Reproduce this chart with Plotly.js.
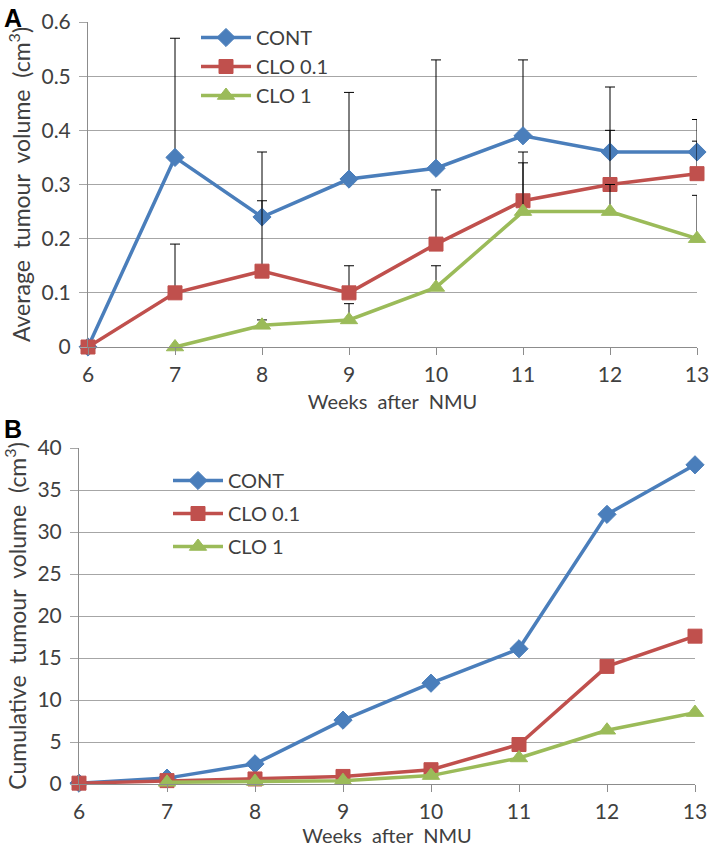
<!DOCTYPE html>
<html>
<head>
<meta charset="utf-8">
<script src="https://cdn.plot.ly/plotly-3.0.1.min.js"></script>
<style>html,body{margin:0;padding:0;background:#fff;}#chart{width:709px;height:847px;}</style>
</head>
<body>
<div id="chart"></div>
<script>
// ---- data ----
const weeks = [6, 7, 8, 9, 10, 11, 12, 13];
const seriesNames = ['CONT', 'CLO 0.1', 'CLO 1'];

// Panel A: average tumour volume (cm3) and upper error (SE)
const contMean  = [0, 0.35, 0.24, 0.31, 0.33, 0.39, 0.36, 0.36];
const contErr   = [null, 0.22, 0.12, 0.16, 0.20, 0.14, 0.12, 0.06];
const clo01Mean = [0, 0.10, 0.14, 0.10, 0.19, 0.27, 0.30, 0.32];
const clo01Err  = [null, 0.09, 0.13, 0.05, 0.10, 0.09, 0.10, 0.06];
const clo1Mean  = [null, 0, 0.04, 0.05, 0.11, 0.25, 0.25, 0.20];
const clo1Err   = [null, null, 0.01, 0.03, 0.04, 0.09, 0.05, 0.08];

// Panel B: cumulative tumour volume (cm3)
const contCum  = [0.1, 0.7, 2.4, 7.6, 12.0, 16.1, 32.1, 38.0];
const clo01Cum = [0.1, 0.4, 0.6, 0.9, 1.7, 4.7, 14.0, 17.6];
const clo1Cum  = [null, 0.2, 0.3, 0.4, 1.0, 3.1, 6.4, 8.5];

const xTicks = weeks;
const yTicksA = [0, 0.1, 0.2, 0.3, 0.4, 0.5, 0.6];
const yTicksB = [0, 5, 10, 15, 20, 25, 30, 35, 40];

// ---- style ----
const colors = ['#4A7EBB', '#C0504D', '#9BBB59'];
const symbols = ['diamond', 'square', 'triangle-up'];
const msizes = [14, 14, 15];
const FONT = 'Lato, "Open Sans", sans-serif';
const TXT = '#404040';
const SP = '\u00a0 ';

function errObj(arr) {
  return {
    type: 'data', symmetric: false,
    array: arr, arrayminus: arr.map(v => v === null ? null : 0),
    color: '#000', thickness: 1, width: 5
  };
}

const meansA = [contMean, clo01Mean, clo1Mean];
const errsA = [contErr, clo01Err, clo1Err];
const cumsB = [contCum, clo01Cum, clo1Cum];

const traces = [];
meansA.forEach((m, i) => {
  traces.push({
    x: weeks, y: m, type: 'scatter', mode: 'lines+markers',
    name: seriesNames[i], xaxis: 'x', yaxis: 'y', legend: 'legend',
    legendgroup: 'a' + i,
    line: {color: colors[i], width: 3.5},
    marker: {symbol: symbols[i], size: msizes[i], color: colors[i], line: {color: colors[i], width: 1}},
    error_y: errObj(errsA[i]), cliponaxis: false, connectgaps: false
  });
});
cumsB.forEach((m, i) => {
  traces.push({
    x: weeks, y: m, type: 'scatter', mode: 'lines+markers',
    name: seriesNames[i], xaxis: 'x2', yaxis: 'y2', legend: 'legend2',
    legendgroup: 'b' + i,
    line: {color: colors[i], width: 3.5},
    marker: {symbol: symbols[i], size: msizes[i], color: colors[i], line: {color: colors[i], width: 1}},
    cliponaxis: false
  });
});

const axFont = {family: FONT, size: 20, color: TXT};
const yTitleFont = {family: FONT, size: 23, color: TXT};
const tickFont = {family: FONT, size: 21, color: TXT};
function xAx(domain, anchor, standoff) {
  return {
    domain: domain, anchor: anchor, range: [6, 13], tickvals: xTicks,
    showgrid: false, zeroline: false, showline: true, linecolor: '#8C8C8C', linewidth: 1,
    ticks: 'outside', ticklen: 7, tickcolor: '#8C8C8C',
    tickfont: tickFont, ticklabelstandoff: 2, ticklabeloverflow: 'allow',
    title: {text: 'Weeks' + SP + 'after' + SP + 'NMU', font: axFont, standoff: standoff}
  };
}
function yAx(domain, anchor, range, tv, title) {
  return {
    domain: domain, anchor: anchor, range: range, tickvals: tv,
    showgrid: true, gridcolor: '#A6A6A6', gridwidth: 1, zeroline: false,
    showline: true, linecolor: '#8C8C8C', linewidth: 1,
    ticks: 'outside', ticklen: 8, tickcolor: '#A6A6A6',
    tickfont: tickFont, ticklabelstandoff: 4, ticklabeloverflow: 'allow',
    title: {text: title, font: yTitleFont, standoff: 4}
  };
}

const layout = {
  width: 709, height: 847,
  margin: {l: 0, r: 0, t: 0, b: 0},
  paper_bgcolor: '#fff', plot_bgcolor: '#fff',
  font: {family: FONT, color: TXT},
  xaxis: xAx([88/709, 697/709], 'y', 9),
  yaxis: yAx([1 - 347/847, 1 - 22/847], 'x', [0, 0.6], yTicksA,
    'Average' + SP + 'tumour' + SP + 'volume' + SP + '(cm<sup>3</sup>)'),
  xaxis2: xAx([79/709, 695/709], 'y2', 13),
  yaxis2: yAx([1 - 784/847, 1 - 448/847], 'x2', [0, 40], yTicksB,
    'Cumulative' + SP + 'tumour' + SP + 'volume' + SP + '(cm<sup>3</sup>)'),
  legend: {
    x: 196/709, y: 1 - 18/847, xanchor: 'left', yanchor: 'top',
    bgcolor: 'rgba(0,0,0,0)', font: {family: FONT, size: 20, color: TXT},
    itemwidth: 50, tracegroupgap: 0, traceorder: 'normal'
  },
  legend2: {
    x: 168/709, y: 1 - 461/847, xanchor: 'left', yanchor: 'top',
    bgcolor: 'rgba(0,0,0,0)', font: {family: FONT, size: 20, color: TXT},
    itemwidth: 50, tracegroupgap: 4, traceorder: 'grouped'
  },
  annotations: [
    {text: '<b>A</b>', xref: 'paper', yref: 'paper', x: 2/709, y: 1 - 2/847, xanchor: 'left', yanchor: 'top',
     showarrow: false, font: {family: 'Liberation Sans, Arial, sans-serif', size: 25, color: '#000'}},
    {text: '<b>B</b>', xref: 'paper', yref: 'paper', x: 2/709, y: 1 - 413/847, xanchor: 'left', yanchor: 'top',
     showarrow: false, font: {family: 'Liberation Sans, Arial, sans-serif', size: 25, color: '#000'}}
  ],
  showlegend: true
};

Plotly.newPlot('chart', traces, layout, {displayModeBar: false, staticPlot: true});
</script>
</body>
</html>
